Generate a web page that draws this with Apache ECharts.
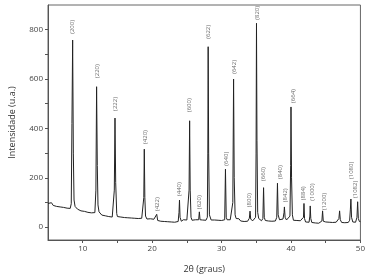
<!DOCTYPE html>
<html>
<head>
<meta charset="utf-8">
<script src="https://cdn.jsdelivr.net/npm/echarts@6/dist/echarts.min.js"></script>
<style>
  html, body { margin: 0; padding: 0; background: #fff; }
  #xrd { width: 368px; height: 280px; }
</style>
</head>
<body>
<div id="xrd"></div>
<script>
// difratograma: [2θ, intensidade]
var pattern = [
  [5.0, 96], [5.25, 90], [5.5, 99], [5.75, 88], [6.0, 95], [6.25, 84], [6.5, 92], [6.75, 82],
  [7.0, 90], [7.25, 80], [7.5, 87], [7.75, 77], [8.0, 85], [8.2, 76], [8.35, 95], [8.45, 420],
  [8.55, 758], [8.65, 300], [8.75, 110], [8.9, 84], [9.0, 76], [9.25, 73], [9.5, 78], [9.75, 66],
  [10.0, 74], [10.25, 64], [10.5, 71], [10.75, 60], [11.0, 68], [11.25, 58], [11.5, 65], [11.75, 59],
  [11.9, 150], [12.0, 569], [12.1, 250], [12.2, 90], [12.35, 62], [12.5, 54], [12.75, 49], [13.0, 57],
  [13.25, 46], [13.5, 53], [13.75, 43], [14.0, 50], [14.25, 41], [14.45, 47], [14.55, 150], [14.65, 442],
  [14.75, 180], [14.9, 55], [15.0, 43], [15.25, 35], [15.5, 41], [15.75, 33], [16.0, 39], [16.25, 31],
  [16.5, 38], [16.75, 30], [17.0, 37], [17.25, 29], [17.5, 36], [17.75, 28], [18.0, 35], [18.25, 29],
  [18.5, 36], [18.7, 31], [18.8, 120], [18.87, 316], [18.95, 120], [19.05, 45], [19.25, 33], [19.5, 27],
  [19.75, 34], [20.0, 26], [20.25, 32], [20.5, 29], [20.66, 52], [20.8, 27], [21.0, 33], [21.25, 24],
  [21.5, 31], [21.75, 23], [22.0, 30], [22.25, 22], [22.5, 29], [22.75, 21], [23.0, 28], [23.25, 20],
  [23.5, 27], [23.75, 23], [23.87, 60], [23.94, 110], [24.02, 40], [24.2, 24], [24.5, 30], [24.75, 22],
  [25.0, 29], [25.2, 30], [25.32, 150], [25.4, 431], [25.48, 150], [25.6, 40], [25.75, 28], [26.0, 23],
  [26.25, 30], [26.5, 22], [26.7, 30], [26.8, 62], [26.9, 30], [27.0, 23], [27.25, 29], [27.5, 21],
  [27.75, 28], [27.95, 40], [28.02, 300], [28.07, 731], [28.14, 300], [28.25, 50], [28.5, 29], [28.75, 22],
  [29.0, 29], [29.25, 21], [29.5, 28], [29.75, 20], [30.0, 27], [30.25, 21], [30.45, 30], [30.56, 235],
  [30.67, 40], [30.8, 30], [31.0, 24], [31.25, 30], [31.5, 30], [31.62, 100], [31.73, 600], [31.82, 200],
  [31.95, 50], [32.1, 35], [32.25, 27], [32.5, 34], [32.75, 25], [33.0, 32], [33.25, 23], [33.5, 30],
  [33.75, 24], [34.0, 36], [34.1, 65], [34.2, 32], [34.5, 26], [34.75, 32], [34.9, 40], [34.97, 300],
  [35.03, 826], [35.1, 350], [35.2, 60], [35.35, 35], [35.5, 29], [35.75, 26], [35.95, 35], [36.05, 160],
  [36.15, 40], [36.3, 27], [36.5, 33], [36.75, 25], [37.0, 31], [37.25, 24], [37.5, 30], [37.75, 25],
  [37.95, 40], [38.05, 178], [38.15, 50], [38.35, 30], [38.6, 26], [38.85, 33], [39.0, 60], [39.05, 82],
  [39.15, 40], [39.35, 29], [39.6, 34], [39.85, 45], [39.95, 250], [40.0, 487], [40.08, 200], [40.2, 50],
  [40.35, 28], [40.6, 21], [40.85, 27], [41.1, 19], [41.35, 26], [41.6, 20], [41.8, 40], [41.87, 96],
  [41.95, 35], [42.1, 21], [42.35, 27], [42.6, 20], [42.72, 45], [42.77, 86], [42.85, 35], [43.0, 19],
  [43.25, 25], [43.5, 17], [43.75, 23], [44.0, 16], [44.25, 22], [44.45, 25], [44.55, 66], [44.65, 24],
  [44.85, 16], [45.0, 21], [45.25, 14], [45.5, 20], [45.75, 13], [46.0, 19], [46.25, 14], [46.5, 20],
  [46.75, 22], [46.9, 35], [47.0, 66], [47.1, 30], [47.3, 19], [47.5, 25], [47.75, 18], [48.0, 24],
  [48.25, 19], [48.45, 28], [48.55, 70], [48.63, 114], [48.72, 40], [48.9, 21], [49.1, 27], [49.3, 20],
  [49.5, 40], [49.6, 103], [49.7, 35], [49.85, 23], [50.0, 22]
];

// indices de Miller: [2θ, altura do rótulo, texto]
var peakLabels = [
  [8.55, 779, '(200)'], [12.15, 600, '(220)'], [14.75, 467, '(222)'], [19.0, 333, '(420)'],
  [20.7, 61, '(422)'], [23.9, 122, '(440)'], [25.4, 462, '(600)'], [26.8, 69, '(620)'],
  [28.07, 759, '(622)'], [30.7, 245, '(640)'], [31.87, 617, '(642)'], [34.0, 77, '(800)'],
  [35.1, 836, '(820)'], [36.05, 183, '(660)'], [38.4, 191, '(840)'], [39.15, 97, '(842)'],
  [40.28, 499, '(664)'], [41.83, 105, '(884)'], [43.0, 103, '(1000)'], [44.75, 65, '(1200)'],
  [48.7, 191, '(1080)'], [49.3, 114, '(1082)']
];

var xLabelValues = [10, 20, 30, 40, 50];
var xTickValues = [10, 15, 20, 25, 30, 35, 40, 45, 50];
var yLabelValues = [0, 200, 400, 600, 800];
var yTickValues = [0, 100, 200, 300, 400, 500, 600, 700, 800];

var chart = echarts.init(document.getElementById('xrd'));
chart.setOption({
  animation: false,
  textStyle: { fontFamily: 'Open Sans' },
  grid: {
    show: true,
    left: 42, right: 7, top: 5, bottom: 40,
    borderColor: '#666', borderWidth: 1
  },
  xAxis: {
    type: 'value',
    min: 5, max: 50,
    name: '2θ (graus)',
    nameLocation: 'middle',
    nameGap: 25,
    nameTextStyle: { fontSize: 9, color: '#333' },
    splitLine: { show: false },
    axisLine: { onZero: false, lineStyle: { color: '#555' } },
    axisTick: { customValues: xTickValues, length: 3, lineStyle: { color: '#555' } },
    axisLabel: { customValues: xLabelValues, fontSize: 8, color: '#444', margin: 5 }
  },
  yAxis: {
    type: 'value',
    min: -52, max: 900,
    name: 'Intensidade (u.a.)',
    nameLocation: 'middle',
    nameGap: 31,
    nameTextStyle: { fontSize: 9, color: '#333' },
    splitLine: { show: false },
    axisLine: { show: true, onZero: false, lineStyle: { color: '#555' } },
    axisTick: { show: true, customValues: yTickValues, length: 3, lineStyle: { color: '#555' } },
    axisLabel: { customValues: yLabelValues, fontSize: 8, color: '#444', margin: 5 }
  },
  series: [
    {
      type: 'line',
      data: pattern,
      showSymbol: false,
      lineStyle: { color: '#222', width: 1 }
    },
    {
      type: 'scatter',
      data: peakLabels,
      symbolSize: 0,
      silent: true,
      label: {
        show: true,
        position: 'top',
        distance: 1,
        rotate: 90,
        align: 'left',
        verticalAlign: 'middle',
        fontSize: 6,
        color: '#444',
        formatter: function (p) { return p.value[2]; }
      }
    }
  ]
});
</script>
</body>
</html>
